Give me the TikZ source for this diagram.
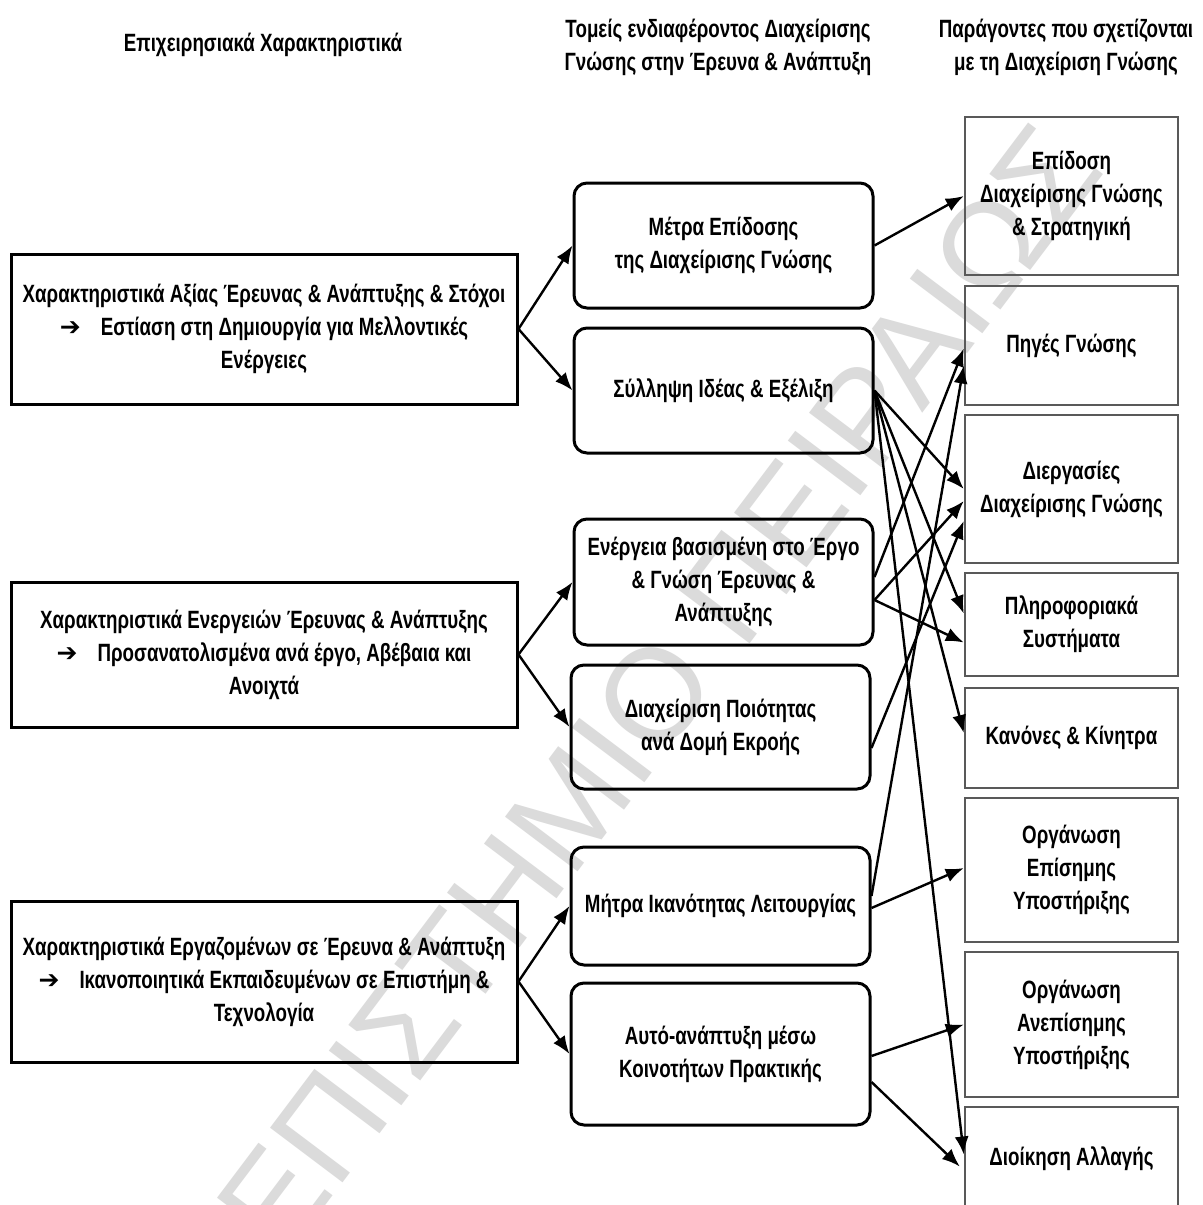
\documentclass[tikz,border=0pt]{standalone}
\usepackage{fontspec}
\setmainfont{Liberation Sans Bold}[FakeStretch=0.75]
\newfontfamily\arrowfont{DejaVu Sans Bold}
\newfontfamily\markfont{Liberation Sans}
\usetikzlibrary{arrows.meta,calc}

\begin{document}
\begin{tikzpicture}[x=0.5pt,y=-0.5pt,
  every node/.style={font=\fontsize{12.5}{16.5}\selectfont, align=center, inner sep=0pt},
  header/.style={},
  leftbox/.style={draw=black, line width=1.5pt, minimum width=253pt},
  midbox/.style={draw=black, line width=1.5pt, rounded corners=6.5pt, minimum width=149.5pt},
  rightbox/.style={draw=black!65, line width=1.2pt, minimum width=106.5pt},
  conn/.style={-{Latex[length=9pt,width=7pt]}, line width=1.2pt},
  wmark/.style={text=black!14, font=\fontsize{66}{66}\markfont, rotate=53}
]
\clip (0,0) rectangle (1203,1205);
\fill[white] (0,0) rectangle (1203,1205);

% watermark
\node[wmark] (wm) at (575,800) {ΠΑΝΕΠΙΣΤΗΜΙΟ ΠΕΙΡΑΙΩΣ};

% column headers
\node[header] (h1) at (263,45) {Επιχειρησιακά Χαρακτηριστικά};
\node[header] (h2) at (718,47) {Τομείς ενδιαφέροντος Διαχείρισης\\Γνώσης στην Έρευνα \& Ανάπτυξη};
\node[header] (h3) at (1066,47) {Παράγοντες που σχετίζονται\\με τη Διαχείριση Γνώσης};

% business characteristics
\node[leftbox, minimum height=75pt] (l1) at (264,329)
  {Χαρακτηριστικά Αξίας Έρευνας \& Ανάπτυξης \& Στόχοι\\
   {\arrowfont ➔}\hspace{10pt}Εστίαση στη Δημιουργία για Μελλοντικές\\Ενέργειες};
\node[leftbox, minimum height=72.5pt] (l2) at (264,654.5)
  {Χαρακτηριστικά Ενεργειών Έρευνας \& Ανάπτυξης\\
   {\arrowfont ➔}\hspace{10pt}Προσανατολισμένα ανά έργο, Αβέβαια και\\Ανοιχτά};
\node[leftbox, minimum height=80.5pt] (l3) at (264,981.5)
  {Χαρακτηριστικά Εργαζομένων σε Έρευνα \& Ανάπτυξη\\
   {\arrowfont ➔}\hspace{10pt}Ικανοποιητικά Εκπαιδευμένων σε Επιστήμη \&\\Τεχνολογία};

% areas of interest
\node[midbox, minimum height=62.5pt] (m1) at (723.5,245.5) {Μέτρα Επίδοσης\\της Διαχείρισης Γνώσης};
\node[midbox, minimum height=62.5pt] (m2) at (723.5,390.5) {Σύλληψη Ιδέας \& Εξέλιξη};
\node[midbox, minimum height=63pt] (m3) at (723.5,582) {Ενέργεια βασισμένη στο Έργο\\\& Γνώση Έρευνας \&\\Ανάπτυξης};
\node[midbox, minimum height=62pt] (m4) at (720.5,727) {Διαχείριση Ποιότητας\\ανά Δομή Εκροής};
\node[midbox, minimum height=59pt] (m5) at (720.5,906) {Μήτρα Ικανότητας Λειτουργίας};
\node[midbox, minimum height=71pt] (m6) at (720.5,1054) {Αυτό-ανάπτυξη μέσω\\Κοινοτήτων Πρακτικής};

% knowledge management factors
\node[rightbox, minimum height=79pt] (r1) at (1071.5,196) {Επίδοση\\Διαχείρισης Γνώσης\\\& Στρατηγική};
\node[rightbox, minimum height=59.5pt] (r2) at (1071.5,345.5) {Πηγές Γνώσης};
\node[rightbox, minimum height=74pt] (r3) at (1071.5,489) {Διεργασίες\\Διαχείρισης Γνώσης};
\node[rightbox, minimum height=51.5pt] (r4) at (1071.5,624.5) {Πληροφοριακά\\Συστήματα};
\node[rightbox, minimum height=50pt] (r5) at (1071.5,738) {Κανόνες \& Κίνητρα};
\node[rightbox, minimum height=72pt] (r6) at (1071.5,870) {Οργάνωση\\Επίσημης\\Υποστήριξης};
\node[rightbox, minimum height=72.5pt] (r7) at (1071.5,1024.5) {Οργάνωση\\Ανεπίσημης\\Υποστήριξης};
\node[rightbox, minimum height=51.5pt] (r8) at (1071.5,1158.5) {Διοίκηση Αλλαγής};

% characteristics to areas
\draw[conn] (l1.east) -- (m1.west);
\draw[conn] (l1.east) -- (m2.west);
\draw[conn] (l2.east) -- (m3.west);
\draw[conn] (l2.east) -- (m4.west);
\draw[conn] (l3.east) -- (m5.west);
\draw[conn] (l3.east) -- (m6.west);

% areas to factors
\draw[conn] (m1.east) -- (r1.west);
\draw[conn] (m2.east) -- (r3.west);
\draw[conn] (m2.east) -- ($(r4.west)+(0,-11)$);
\draw[conn] (m2.east) -- ($(r5.west)+(0,-5)$);
\draw[conn] (m2.east) -- ($(r8.west)+(0,-4)$);
\draw[conn] ($(m3.east)+(0,-5)$) -- ($(r2.west)+(0,3)$);
\draw[conn] ($(m3.east)+(0,18)$) -- ($(r3.west)+(0,12)$);
\draw[conn] ($(m3.east)+(0,18)$) -- ($(r4.west)+(0,18)$);
\draw[conn] ($(m4.east)+(0,21)$) -- ($(r3.west)+(0,32)$);
\draw[conn] ($(m5.east)+(0,-10)$) -- ($(r2.west)+(0,20)$);
\draw[conn] ($(m5.east)+(0,2)$) -- ($(r6.west)+(0,-2)$);
\draw[conn] ($(m6.east)+(0,2)$) -- (r7.west);
\draw[conn] ($(m6.east)+(0,28)$) -- ($(r8.west)+(-4,8)$);
\end{tikzpicture}
\end{document}
